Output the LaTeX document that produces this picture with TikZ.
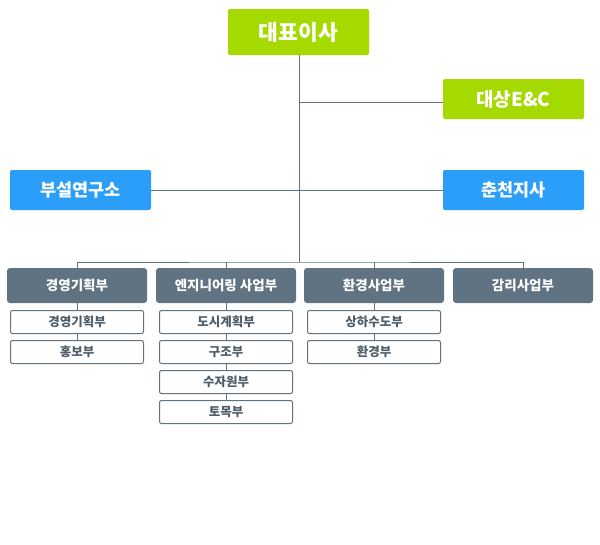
\documentclass[tikz,border=0pt]{standalone}
\usepackage{fontspec}
\setmainfont{Noto Sans CJK KR}
\usetikzlibrary{positioning}
\definecolor{ceogreen}{HTML}{A6D900}
\definecolor{subblue}{HTML}{2B9EF9}
\definecolor{deptgray}{HTML}{5F7382}
\definecolor{teamtext}{HTML}{4E5D69}

\begin{document}
\begin{tikzpicture}[x=1pt, y=-1pt,
    top/.style={fill=ceogreen, text=white, font=\bfseries, rounded corners=2pt, inner sep=0pt},
    side/.style={fill=subblue, text=white, font=\bfseries\fontsize{17.5}{19}\selectfont, rounded corners=2pt, minimum width=141pt, minimum height=40pt, inner sep=0pt},
    dept/.style={fill=deptgray, text=white, font=\bfseries\fontsize{13.5}{15}\selectfont, rounded corners=3pt, minimum width=140pt, minimum height=35pt, inner sep=0pt},
    team/.style={draw=deptgray, line width=1pt, fill=white, text=teamtext, font=\bfseries\fontsize{12.5}{14}\selectfont, rounded corners=2pt, minimum width=133pt, minimum height=23pt, inner sep=0pt},
    link/.style={draw=deptgray, line width=1pt}]
            \useasboundingbox (0,0) rectangle (600,544);

            \node [top, minimum width=141pt, minimum height=46pt, font=\bfseries\fontsize{21.5}{23}\selectfont] (ceo) at (298.5,32) {대표이사};
            \node [top, minimum width=141pt, minimum height=40pt, font=\bfseries\fontsize{19}{21}\selectfont] (enc) at (513.5,99) {대상E\&C};
            \node [side] (lab) at (80.5,190) {부설연구소};
            \node [side] (branch) at (513.5,190) {춘천지사};

            \node [dept] (plan) at (77,285.5) {경영기획부};
            \node [dept] (eng) at (226,285.5) {엔지니어링 사업부};
            \node [dept] (env) at (374,285.5) {환경사업부};
            \node [dept] (audit) at (523,285.5) {감리사업부};

            \node [team] (plan1) at (77,322) {경영기획부};
            \node [team] (plan2) at (77,352) {홍보부};
            \node [team] (eng1) at (226,322) {도시계획부};
            \node [team] (eng2) at (226,352) {구조부};
            \node [team] (eng3) at (226,382) {수자원부};
            \node [team] (eng4) at (226,412) {토목부};
            \node [team] (env1) at (374,322) {상하수도부};
            \node [team] (env2) at (374,352) {환경부};

            \coordinate (bus) at (299,262);
            \coordinate (tenc) at (299,102);

            \draw [link] (ceo.south -| bus) -- (bus);
            \draw [link] (tenc) -- (tenc -| enc.west);
            \draw [link] (lab) -- (branch);
            \draw [link] (plan.north) |- (bus) -| (audit.north);
            \draw [link] (eng.north) -- (eng.north |- bus);
            \draw [link] (env.north) -- (env.north |- bus);

            \draw [link] (plan) -- (plan1);
            \draw [link] (plan1) -- (plan2);
            \draw [link] (eng) -- (eng1);
            \draw [link] (eng1) -- (eng2);
            \draw [link] (eng2) -- (eng3);
            \draw [link] (eng3) -- (eng4);
            \draw [link] (env) -- (env1);
            \draw [link] (env1) -- (env2);
          \end{tikzpicture}
\end{document}
